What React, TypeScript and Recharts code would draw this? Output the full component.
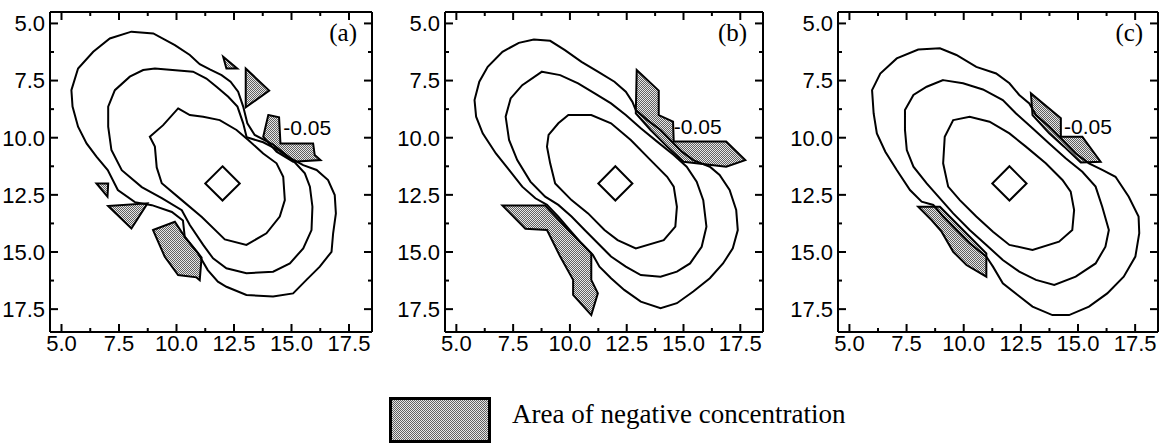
import React from "react";
import { ScatterChart, Scatter, XAxis, YAxis } from "recharts";

type Pt = [number, number];

// axis range and ticks (major every 2.5, minor in between)
const axisDomain: [number, number] = [4.5, 18.5];
const axisTicks = [5, 6.25, 7.5, 8.75, 10, 11.25, 12.5, 13.75, 15, 16.25, 17.5];

// the small source diamond, same in all panels
const sourceDiamond: Pt[] = [[12, 11.25], [12.75, 12], [12, 12.75], [11.25, 12]];

// ---- panel (a)
const outerA: Pt[] = [
  [8.04, 5.36], [8.99, 5.44], [9.93, 5.95], [10.58, 6.38], [11.01, 6.78], [11.45, 7.01], [11.96, 7.26],
  [12.35, 7.55], [12.68, 7.99], [12.9, 8.64], [13.08, 9.37], [13.4, 9.88], [14.2, 10.3], [14.93, 10.88],
  [15.51, 11.2], [16.09, 11.41], [16.59, 11.85], [16.88, 12.51], [16.93, 13.31], [16.81, 14.18],
  [16.74, 14.99], [16.23, 15.64], [15.65, 16.22], [15.07, 16.81], [14.2, 16.95], [13.04, 16.88],
  [12.17, 16.52], [11.8, 16.3], [11.36, 15.79], [10.93, 15.05], [10.36, 14.35], [10.28, 13.62],
  [9.8, 13.25], [8.93, 12.95], [8.19, 12.82], [7.45, 12.29], [7.01, 11.42], [6.52, 10.83], [6.09, 10.25],
  [5.72, 9.52], [5.48, 8.64], [5.43, 7.92], [5.72, 6.97], [6.38, 6.24], [7.1, 5.66],
];
const middleA: Pt[] = [
  [9.06, 6.97], [10.72, 7.11], [11.3, 7.41], [11.74, 7.77], [12.25, 8.21], [12.65, 8.64], [12.9, 9.37],
  [13.05, 9.98], [13.77, 10.2], [14.49, 10.58], [15.07, 11.0], [15.58, 11.56], [15.8, 12.14], [15.91, 13.02],
  [15.87, 14.04], [15.51, 14.84], [14.93, 15.5], [14.2, 15.86], [13.04, 15.93], [12.17, 15.71],
  [11.59, 15.28], [11.16, 14.69], [10.58, 13.82], [10.23, 13.17], [9.36, 12.64], [8.49, 12.16],
  [7.62, 11.42], [7.17, 10.54], [7.03, 9.52], [7.03, 8.64], [7.32, 7.92], [7.97, 7.33], [8.55, 7.04],
];
const innerA: Pt[] = [
  [10.07, 8.72], [10.58, 9.01], [11.16, 9.08], [11.88, 9.23], [12.61, 9.66], [13.12, 10.1], [13.77, 10.69],
  [14.35, 11.12], [14.64, 11.71], [14.71, 12.73], [14.49, 13.45], [13.91, 14.18], [13.04, 14.69],
  [12.1, 14.45], [11.1, 13.47], [10.23, 12.73], [9.36, 11.99], [9.14, 11.3], [9.06, 10.39], [8.84, 9.96],
  [9.42, 9.45],
];
const negA: Pt[][] = [
  [[12.03, 6.46], [12.64, 6.97], [12.17, 6.97]],
  [[13.01, 6.97], [14.03, 7.94], [13.01, 8.67]],
  [[13.99, 9.01], [14.46, 9.11], [14.52, 10.25], [15.94, 10.25], [16.01, 10.76], [16.26, 10.98],
    [15.07, 11.05], [14.35, 10.61], [13.77, 9.96]],
  [[6.52, 12.0], [7.03, 12.0], [7.0, 12.58]],
  [[7.03, 12.99], [8.74, 12.87], [8.04, 13.97]],
  [[8.98, 14.04], [9.93, 13.68], [10.36, 14.33], [11.09, 15.24], [11.01, 16.23], [10.87, 16.11],
    [10.07, 16.01], [9.49, 15.21]],
];

// ---- panel (b)
const outerB: Pt[] = [
  [8.41, 5.7], [9.13, 5.76], [9.78, 6.17], [10.51, 6.68], [11.23, 7.11], [11.96, 7.55], [12.46, 7.99],
  [12.75, 8.43], [12.9, 8.79], [13.41, 9.23], [13.99, 9.66], [14.42, 10.1], [14.93, 10.61], [15.43, 10.98],
  [16.16, 11.27], [16.59, 11.63], [17.03, 12.29], [17.32, 13.16], [17.39, 14.04], [17.17, 14.84],
  [16.74, 15.5], [16.16, 16.15], [15.43, 16.73], [14.71, 17.24], [13.99, 17.46], [13.12, 17.17],
  [12.39, 16.66], [11.81, 16.15], [11.3, 15.64], [11.01, 15.13], [10.51, 14.62], [10.0, 14.04],
  [9.49, 13.45], [8.99, 12.94], [8.48, 12.65], [7.9, 12.14], [7.32, 11.41], [6.74, 10.69], [6.16, 9.81],
  [5.87, 9.08], [5.8, 8.35], [6.01, 7.55], [6.38, 6.9], [7.03, 6.24], [7.75, 5.85],
];
const middleB: Pt[] = [
  [8.77, 7.11], [9.57, 7.26], [10.36, 7.62], [11.09, 8.06], [11.81, 8.5], [12.46, 9.01], [13.12, 9.59],
  [13.84, 10.17], [14.57, 10.76], [15.14, 11.27], [15.58, 11.92], [15.87, 12.73], [16.01, 13.89],
  [15.8, 14.77], [15.29, 15.5], [14.71, 15.86], [13.99, 16.08], [13.12, 16.01], [12.46, 15.64],
  [11.81, 15.2], [11.23, 14.62], [10.65, 14.04], [10.07, 13.45], [9.49, 12.94], [8.91, 12.58],
  [8.26, 11.92], [7.68, 10.98], [7.32, 10.1], [7.17, 9.08], [7.39, 8.28], [7.9, 7.7],
];
const innerB: Pt[] = [
  [9.93, 9.01], [10.94, 9.01], [11.81, 9.37], [12.68, 10.1], [13.55, 10.98], [14.28, 11.71], [14.57, 12.14],
  [14.71, 13.02], [14.64, 13.89], [14.13, 14.48], [12.9, 14.84], [12.1, 14.48], [11.52, 14.04],
  [10.8, 13.31], [10.07, 12.73], [9.35, 12.0], [9.13, 11.12], [8.99, 10.39], [9.06, 9.88], [9.49, 9.37],
];
const negB: Pt[][] = [
  [[12.94, 7.04], [13.91, 7.94], [13.91, 9.01], [14.54, 9.3], [14.57, 10.17], [16.88, 10.17], [17.72, 10.98],
    [16.88, 11.27], [15.0, 11.05], [14.28, 10.39], [13.55, 9.66], [12.9, 8.94]],
  [[7.03, 12.97], [8.91, 12.97], [9.93, 14.04], [10.94, 15.06], [10.94, 16.22], [11.23, 16.81],
    [10.94, 17.76], [10.14, 16.88], [10.14, 16.22], [9.57, 15.2], [8.99, 14.04], [8.04, 13.98]],
];

// ---- panel (c)
const outerC: Pt[] = [
  [8.01, 6.14], [8.96, 6.09], [9.68, 6.38], [10.55, 6.9], [11.42, 7.19], [12.0, 7.62], [12.43, 8.13],
  [12.87, 8.5], [13.16, 9.01], [13.74, 9.52], [14.32, 10.1], [14.9, 10.69], [15.48, 11.12], [16.06, 11.41],
  [16.64, 11.71], [17.22, 12.58], [17.65, 13.45], [17.68, 14.18], [17.51, 15.2], [17.0, 16.08],
  [16.28, 16.81], [15.48, 17.39], [14.61, 17.76], [13.88, 17.76], [13.01, 17.39], [12.36, 16.88],
  [11.71, 16.37], [11.28, 15.64], [10.99, 15.2], [10.26, 14.62], [9.68, 14.04], [9.1, 13.45],
  [8.67, 12.94], [8.16, 12.8], [7.65, 12.29], [7.07, 11.41], [6.57, 10.61], [6.2, 9.81], [6.06, 8.94],
  [5.99, 7.92], [6.35, 7.19], [7.07, 6.53],
];
const middleC: Pt[] = [
  [9.1, 7.48], [9.97, 7.62], [10.84, 7.89], [11.71, 8.35], [12.29, 8.94], [13.01, 9.59], [13.74, 10.25],
  [14.46, 10.9], [15.19, 11.49], [15.77, 12.14], [16.06, 13.02], [16.35, 14.04], [16.2, 14.77],
  [15.77, 15.5], [14.9, 16.08], [13.96, 16.44], [13.16, 16.22], [12.43, 15.86], [11.71, 15.35],
  [10.99, 14.69], [10.26, 14.04], [9.54, 13.31], [8.96, 12.65], [8.38, 12.0], [7.8, 11.27], [7.51, 10.54],
  [7.43, 9.66], [7.43, 8.79], [7.8, 8.13], [8.38, 7.77],
];
const innerC: Pt[] = [
  [9.54, 9.23], [10.26, 9.08], [11.13, 9.3], [12.0, 9.81], [12.72, 10.39], [13.59, 11.12], [14.32, 11.85],
  [14.68, 12.36], [14.83, 13.16], [14.75, 14.04], [14.17, 14.55], [13.01, 14.91], [12.0, 14.69],
  [11.28, 14.11], [10.55, 13.45], [9.83, 12.73], [9.32, 12.14], [9.1, 11.12], [9.17, 9.96],
];
const negC: Pt[][] = [
  [[12.94, 8.06], [14.25, 9.15], [14.25, 9.96], [15.19, 9.96], [15.99, 11.05], [15.12, 11.08],
    [14.39, 10.39], [13.74, 9.81], [13.01, 9.01]],
  [[8.01, 13.02], [8.96, 13.02], [9.97, 14.04], [10.99, 15.06], [10.99, 16.08], [10.12, 15.57],
    [9.54, 14.99], [9.03, 14.11], [8.59, 13.6]],
];

// text annotations, in data units
const contourLabel = "-0.05";
const contourLabelAt: Pt[] = [[14.64, 9.55], [14.57, 9.52], [14.39, 9.52]];
const panelTags = ["(a)", "(b)", "(c)"];
const panelTagAt: Pt[] = [[17.85, 5.4], [17.8, 5.4], [17.85, 5.4]];

const panels = [
  { left: 50, width: 322, contours: [outerA, middleA, innerA, sourceDiamond], negatives: negA },
  { left: 445, width: 318, contours: [outerB, middleB, innerB, sourceDiamond], negatives: negB },
  { left: 838, width: 320, contours: [outerC, middleC, innerC, sourceDiamond], negatives: negC },
];

const PLOT_TOP = 12;
const PLOT_H = 320;
const Y_AXIS_W = 50;
const X_AXIS_H = 30;
const X_MARGIN = 3;
const Y_MARGIN = 5;

const TICK_FONT = "'Liberation Sans Narrow', 'Arial Narrow', 'Liberation Sans', Arial, sans-serif";
const SANS = "'Liberation Sans', Arial, sans-serif";
const SERIF = "'Liberation Serif', 'Times New Roman', serif";

const toPts = (arr: Pt[]) => arr.map(([x, y]) => ({ x, y }));
const isMajor = (v: number) => Math.abs(v / 2.5 - Math.round(v / 2.5)) < 1e-6;
const tickLen = (v: number) => (isMajor(v) ? 8 : 4);
const noMark = () => <g />;

const BottomTick = (props: any) => {
  const { x, y, payload } = props;
  const axisY = y - X_MARGIN;
  return (
    <g>
      <line x1={x} x2={x} y1={axisY} y2={axisY - tickLen(payload.value)} stroke="#000" strokeWidth={2} />
      {isMajor(payload.value) && (
        <text x={x} y={y} dy="0.72em" textAnchor="middle" fontFamily={TICK_FONT} fontSize={22} fill="#000">
          {payload.value.toFixed(1)}
        </text>
      )}
    </g>
  );
};

const LeftTick = (props: any) => {
  const { x, y, payload } = props;
  const axisX = x + Y_MARGIN;
  return (
    <g>
      <line x1={axisX} x2={axisX + tickLen(payload.value)} y1={y} y2={y} stroke="#000" strokeWidth={2} />
      {isMajor(payload.value) && (
        <text x={x} y={y} dy="0.36em" textAnchor="end" fontFamily={TICK_FONT} fontSize={22} fill="#000">
          {payload.value.toFixed(1)}
        </text>
      )}
    </g>
  );
};

const TopTick = (props: any) => {
  const { x, y, payload } = props;
  return <line x1={x} x2={x} y1={y} y2={y + tickLen(payload.value)} stroke="#000" strokeWidth={2} />;
};

const RightTick = (props: any) => {
  const { x, y, payload } = props;
  return <line x1={x} x2={x - tickLen(payload.value)} y1={y} y2={y} stroke="#000" strokeWidth={2} />;
};

const frame = { stroke: "#000", strokeWidth: 2 };

function Panel({ idx }: { idx: number }) {
  const p = panels[idx];
  const chartW = Y_AXIS_W + p.width + 1;
  const chartH = PLOT_TOP + PLOT_H + X_AXIS_H;
  return (
    <div style={{ position: "absolute", left: p.left - Y_AXIS_W, top: 0 }}>
      <ScatterChart width={chartW} height={chartH} margin={{ top: PLOT_TOP - 1, right: 0, bottom: 0, left: 0 }}>
        <XAxis xAxisId="b" type="number" dataKey="x" domain={axisDomain} ticks={axisTicks} interval={0}
          height={X_AXIS_H} tickSize={0} tickMargin={X_MARGIN} tickLine={false} tick={BottomTick}
          axisLine={frame} allowDataOverflow />
        <XAxis xAxisId="t" orientation="top" type="number" dataKey="x" domain={axisDomain} ticks={axisTicks}
          interval={0} height={1} tickSize={0} tickMargin={0} tickLine={false} tick={TopTick}
          axisLine={frame} allowDataOverflow />
        <YAxis yAxisId="l" type="number" dataKey="y" domain={axisDomain} ticks={axisTicks} interval={0}
          reversed width={Y_AXIS_W} tickSize={0} tickMargin={Y_MARGIN} tickLine={false} tick={LeftTick}
          axisLine={frame} allowDataOverflow />
        <YAxis yAxisId="r" orientation="right" type="number" dataKey="y" domain={axisDomain} ticks={axisTicks}
          interval={0} reversed width={1} tickSize={0} tickMargin={0} tickLine={false} tick={RightTick}
          axisLine={frame} allowDataOverflow />
        {p.negatives.map((poly, i) => (
          <Scatter key={`neg${i}`} xAxisId="b" yAxisId="l" data={toPts(poly)} shape={noMark}
            line={{ stroke: "#000", strokeWidth: 2, fill: "url(#negfill)" }} lineJointType="linearClosed"
            isAnimationActive={false} />
        ))}
        {p.contours.map((poly, i) => (
          <Scatter key={`c${i}`} xAxisId="b" yAxisId="l" data={toPts(poly)} shape={noMark}
            line={{ stroke: "#000", strokeWidth: 2, fill: "none" }} lineJointType="linearClosed"
            isAnimationActive={false} />
        ))}
        <Scatter xAxisId="b" yAxisId="l"
          data={[{ x: contourLabelAt[idx][0], y: contourLabelAt[idx][1], label: contourLabel }]}
          shape={(s: any) => (
            <text x={s.cx} y={s.cy} dy="0.36em" textAnchor="start" fontFamily={SANS} fontSize={21} fill="#000">
              {s.payload.label}
            </text>
          )}
          isAnimationActive={false} />
        <Scatter xAxisId="b" yAxisId="l"
          data={[{ x: panelTagAt[idx][0], y: panelTagAt[idx][1], label: panelTags[idx] }]}
          shape={(s: any) => (
            <text x={s.cx} y={s.cy} dy="0.34em" textAnchor="end" fontFamily={SERIF} fontSize={25} fill="#000">
              {s.payload.label}
            </text>
          )}
          isAnimationActive={false} />
      </ScatterChart>
    </div>
  );
}

export default function App() {
  return (
    <div style={{ position: "absolute", left: 0, top: 0, width: 1159, height: 444, background: "#fff", overflow: "hidden" }}>
      {/* legend, also holds the shared fill pattern */}
      <svg width={560} height={54} style={{ position: "absolute", left: 380, top: 390 }}>
        <defs>
          <pattern id="negfill" width={2} height={2} patternUnits="userSpaceOnUse">
            <rect width={2} height={2} fill="#e6e6e6" />
            <rect x={0} y={0} width={1} height={1} fill="#606060" />
            <rect x={1} y={1} width={1} height={1} fill="#606060" />
          </pattern>
        </defs>
        <rect x={10.5} y={8.5} width={99} height={43} fill="url(#negfill)" stroke="#000" strokeWidth={3} />
        <text x={132} y={33} fontFamily={SERIF} fontSize={27} fill="#000">
          Area of negative concentration
        </text>
      </svg>
      {panels.map((_, i) => (
        <Panel key={i} idx={i} />
      ))}
    </div>
  );
}
